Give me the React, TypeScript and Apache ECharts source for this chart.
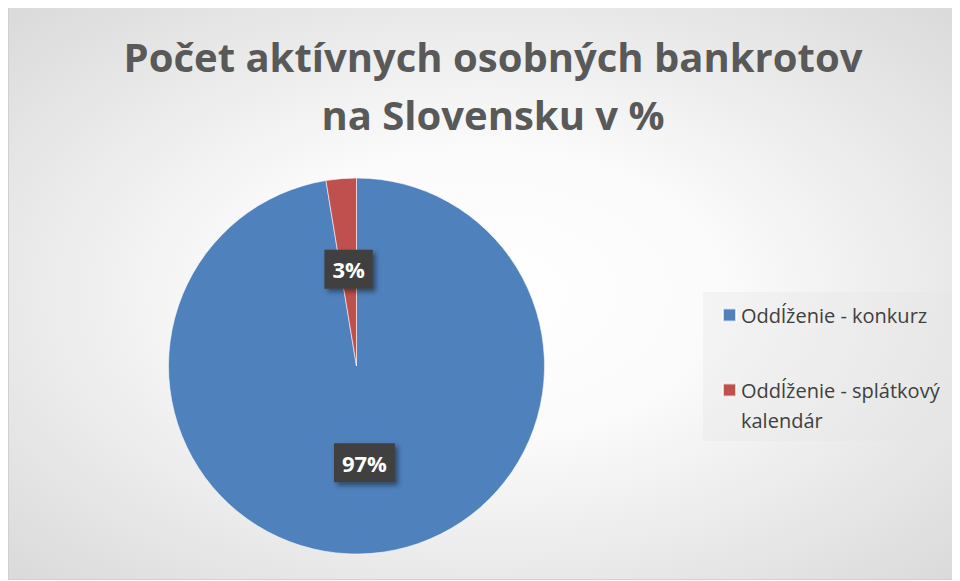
import React, { useEffect, useRef } from "react";
import * as echarts from "echarts";

const titleLines = ["Počet aktívnych osobných bankrotov", "na Slovensku v %"];
const categories = ["Oddĺženie - konkurz", "Oddĺženie - splátkový kalendár"];
const legendLabels = ["Oddĺženie - konkurz", "\nOddĺženie - splátkový\nkalendár"];
const values = [97.4, 2.6];
const colors = ["#4F81BD", "#C0504D"];

export default function App() {
  const ref = useRef<HTMLDivElement>(null);
  useEffect(() => {
    if (!ref.current) return;
    const chart = echarts.init(ref.current, null, { renderer: "svg" });
    const font = "'Open Sans', 'Noto Sans', sans-serif";
    chart.setOption({
      animation: false,
      backgroundColor: {
        type: "radial",
        x: 0.5,
        y: 0.5,
        r: 0.98,
        colorStops: [
          { offset: 0, color: "#ffffff" },
          { offset: 0.25, color: "#fbfbfb" },
          { offset: 1, color: "#c6c6c6" },
        ],
      },
      graphic: [
        {
          type: "rect",
          left: 694,
          top: 284,
          shape: { width: 252, height: 149 },
          style: { fill: "rgba(228,228,228,0.35)" },
          silent: true,
          z: -1,
        },
      ],
      title: {
        text: titleLines.join("\n"),
        left: 479,
        top: 14,
        textAlign: "center",
        textStyle: {
          fontFamily: font,
          fontWeight: "bold",
          fontSize: 40,
          lineHeight: 58,
          color: "#595959",
        },
      },
      legend: {
        orient: "vertical",
        left: 708,
        top: 287,
        icon: "rect",
        itemWidth: 13,
        itemHeight: 13,
        itemGap: 15,
        selectedMode: false,
        formatter: (name: string) => legendLabels[categories.indexOf(name)],
        data: categories,
        textStyle: {
          fontFamily: font,
          fontSize: 20,
          lineHeight: 30,
          color: "#404040",
        },
      },
      series: [
        {
          type: "pie",
          center: [347.5, 358],
          radius: 188,
          startAngle: 90,
          clockwise: true,
          avoidLabelOverlap: false,
          data: categories.map((c, i) => ({
            name: c,
            value: values[i],
            itemStyle: { color: colors[i] },
          })),
          itemStyle: { borderColor: "rgba(255,255,255,0.7)", borderWidth: 0.8 },
          label: {
            show: true,
            position: "inside",
            formatter: (p: any) => Math.round(p.percent) + "%",
            fontFamily: font,
            fontWeight: "bold",
            fontSize: 22,
            color: "#ffffff",
            backgroundColor: "#404040",
            padding: [9, 8, 8, 8],
            shadowColor: "rgba(0,0,0,0.45)",
            shadowBlur: 5,
            shadowOffsetX: 3,
            shadowOffsetY: 3,
          },
          labelLine: { show: false },
          emphasis: { disabled: true },
        },
      ],
    });
    return () => chart.dispose();
  }, []);
  return (
    <div
      ref={ref}
      style={{
        width: 952,
        height: 573,
        marginTop: -1,
        border: "1px solid #d0d0d0",
        boxSizing: "border-box",
      }}
    />
  );
}
